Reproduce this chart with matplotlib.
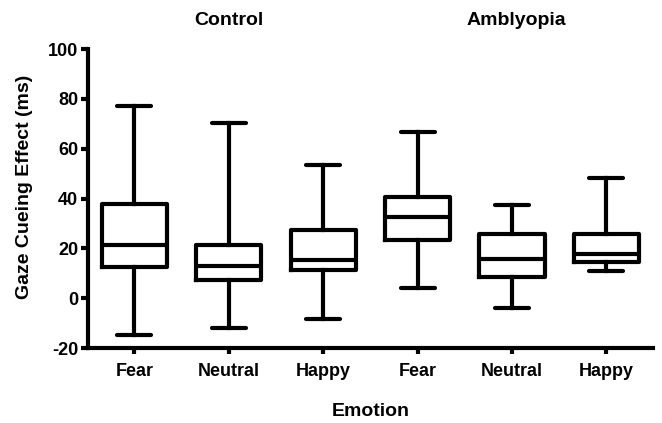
import matplotlib
matplotlib.use("Agg")
import matplotlib.pyplot as plt

plt.rcParams['font.family'] = ['Liberation Sans', 'DejaVu Sans']
plt.rcParams['font.weight'] = 'bold'

groups = ["Control", "Amblyopia"]
emotions = ["Fear", "Neutral", "Happy", "Fear", "Neutral", "Happy"]
whislo = [-14.9, -12.1, -8.5, 4.1, -3.9, 10.8]
q1 = [12.5, 7.2, 11.2, 23.5, 8.5, 14.5]
med = [21.2, 12.8, 15.2, 32.8, 15.6, 17.9]
q3 = [37.9, 21.5, 27.6, 40.5, 25.9, 25.9]
whishi = [77.1, 70.3, 53.5, 66.8, 37.5, 48.1]
yticks = [-20, 0, 20, 40, 60, 80, 100]

stats = []
for i in range(len(emotions)):
    stats.append(dict(whislo=whislo[i], q1=q1[i], med=med[i], q3=q3[i],
                      whishi=whishi[i], fliers=[]))

fig = plt.figure(figsize=(6.62, 4.23), dpi=100)
ax = fig.add_axes([0.133, 0.177, 0.853, 0.707])

lw = 3.0
positions = list(range(1, len(emotions) + 1))
ax.bxp(stats, positions=positions, widths=0.69, showfliers=False,
       boxprops=dict(color='black', linewidth=lw),
       medianprops=dict(color='black', linewidth=lw, solid_capstyle='butt'),
       whiskerprops=dict(color='black', linewidth=lw),
       capprops=dict(color='black', linewidth=lw, solid_capstyle='round'),
       capwidths=0.36)

ax.set_xlim(0.51, 6.49)
ax.set_ylim(-20, 100)
ax.set_yticks(yticks)
ax.set_yticklabels([str(t) for t in yticks], fontsize=13, fontweight='bold')
ax.set_xticks(positions)
ax.set_xticklabels(emotions, fontsize=13, fontweight='bold')
ax.tick_params(axis='x', length=4, width=3, pad=7)
ax.tick_params(axis='y', length=5, width=3, pad=2)

for s in ['top', 'right']:
    ax.spines[s].set_visible(False)
for s in ['left', 'bottom']:
    ax.spines[s].set_linewidth(3)

ax.set_ylabel("Gaze Cueing Effect (ms)", fontsize=14, fontweight='bold')
ax.yaxis.set_label_coords(-0.097, 0.538)
ax.set_xlabel("Emotion", fontsize=14, fontweight='bold', labelpad=16)

trans = ax.get_xaxis_transform()
ax.text(2.0, 1.095, groups[0], transform=trans, ha='center', va='center',
        fontsize=14, fontweight='bold')
ax.text(5.05, 1.095, groups[1], transform=trans, ha='center', va='center',
        fontsize=14, fontweight='bold')

fig.savefig("out.png", dpi=100)
